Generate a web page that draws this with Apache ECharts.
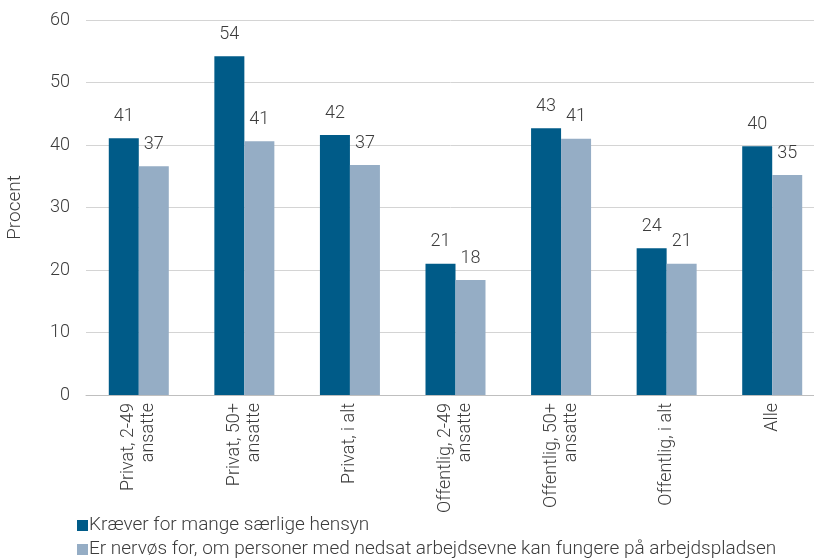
<!DOCTYPE html>
<html>
<head>
<meta charset="utf-8">
<script src="https://cdn.jsdelivr.net/npm/echarts@6/dist/echarts.min.js"></script>
<style>
  html, body { margin: 0; padding: 0; background: #fff; }
  #chart { width: 814px; height: 559px; }
</style>
</head>
<body>
<div id="chart"></div>
<script>
const categories = [
  'Privat, 2-49\nansatte',
  'Privat, 50+\nansatte',
  'Privat, i alt',
  'Offentlig, 2-49\nansatte',
  'Offentlig, 50+\nansatte',
  'Offentlig, i alt',
  'Alle'
]
const seriesNames = [
  'Kræver for mange særlige hensyn',
  'Er nervøs for, om personer med nedsat arbejdsevne kan fungere på arbejdspladsen'
]
const forMangeHensyn = [41.1, 54.2, 41.6, 21.0, 42.7, 23.5, 39.8]
const nervoes = [36.6, 40.6, 36.8, 18.4, 41.0, 21.0, 35.2]
const yTicks = [0, 10, 20, 30, 40, 50, 60]

const textColor = '#3c3c3c'
const font = 'Roboto'

const chart = echarts.init(document.getElementById('chart'))

function barSeries(name, data, color) {
  return {
    name: name,
    type: 'bar',
    data: data,
    barWidth: 30,
    barGap: '0%',
    itemStyle: { color: color },
    label: {
      show: true,
      position: 'top',
      distance: 13,
      color: textColor,
      fontFamily: font,
      fontWeight: 300,
      fontSize: 18,
      formatter: p => Math.round(p.value)
    }
  }
}

// one legend per row so the two items stack
function legendRow(name, top) {
  return {
    orient: 'vertical',
    left: 72,
    top: top,
    itemWidth: 11,
    itemHeight: 11,
    itemGap: 0,
    icon: 'rect',
    textStyle: { color: textColor, fontSize: 19, fontFamily: font, fontWeight: 300, padding: [0, 0, 0, -4] },
    data: [name]
  }
}

chart.setOption({
  animation: false,
  textStyle: { fontFamily: font },
  grid: { left: 86, top: 20, width: 739, height: 375, containLabel: false, outerBoundsMode: 'none' },
  legend: [
    legendRow(seriesNames[0], 511),
    legendRow(seriesNames[1], 535)
  ],
  xAxis: {
    type: 'category',
    data: categories,
    axisLine: { lineStyle: { color: '#bfbfbf', width: 1 } },
    axisTick: { show: false },
    axisLabel: {
      rotate: 90,
      interval: 0,
      margin: 8,
      color: textColor,
      fontSize: 18,
      fontWeight: 300,
      fontFamily: font,
      lineHeight: 20,
      align: 'right',
      verticalAlign: 'middle'
    }
  },
  yAxis: {
    type: 'value',
    min: yTicks[0],
    max: yTicks[yTicks.length - 1],
    interval: 10,
    name: 'Procent',
    nameLocation: 'middle',
    nameRotate: 90,
    nameGap: 61,
    nameTextStyle: { color: textColor, fontSize: 19, fontWeight: 300, fontFamily: font },
    axisLine: { show: false },
    axisTick: { show: false },
    splitLine: { lineStyle: { color: '#d4d4d4' } },
    axisLabel: { color: textColor, fontSize: 18, fontWeight: 300, fontFamily: font, margin: 16 }
  },
  series: [
    barSeries(seriesNames[0], forMangeHensyn, '#005b88'),
    barSeries(seriesNames[1], nervoes, '#95adc5')
  ]
})
</script>
</body>
</html>
